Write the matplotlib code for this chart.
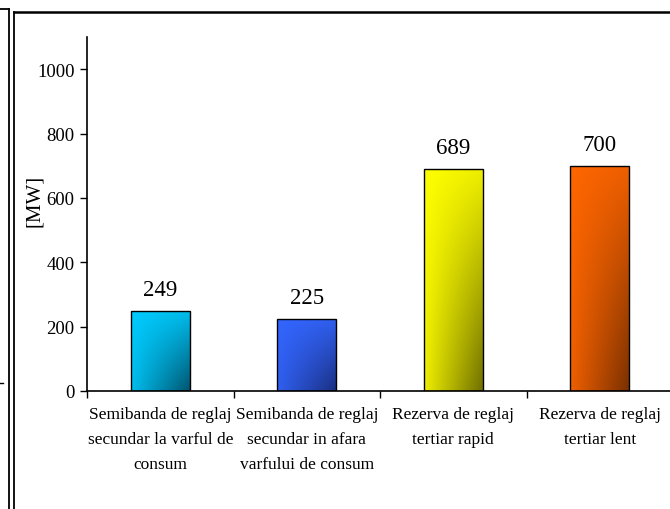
import numpy as np
import matplotlib
matplotlib.use("Agg")
import matplotlib.pyplot as plt
from matplotlib.lines import Line2D
from matplotlib.colors import to_rgb

categories = [
    "Semibanda de reglaj\nsecundar la varful de\nconsum",
    "Semibanda de reglaj\nsecundar in afara\nvarfului de consum",
    "Rezerva de reglaj\ntertiar rapid",
    "Rezerva de reglaj\ntertiar lent",
]
values = [249, 225, 689, 700]
light_colors = ["#00CCFF", "#3366FF", "#FFFF00", "#FF6600"]
dark_colors = ["#00546F", "#1A2F80", "#707000", "#7A3000"]
yticks = [0, 200, 400, 600, 800, 1000]
ylabel = "[MW]"

plt.rcParams['font.family'] = ['Liberation Serif', 'DejaVu Serif']

W, H = 670, 510
fig = plt.figure(figsize=(W / 100, H / 100), dpi=100)
ax = fig.add_axes([87 / W, 118 / H, (673 - 87) / W, (392 - 38) / H])

x = np.arange(len(values))
bw = 0.4
bars = ax.bar(x, values, width=bw, facecolor="none", edgecolor="black",
              linewidth=1.0, zorder=3)

# gradient fill clipped to each bar
ny, nx = 200, 60
u = np.linspace(0, 1, nx)[None, :]
v = np.linspace(0, 1, ny)[:, None]
t = 0.12 * v + u * (0.12 + 0.76 * v)
for b, c1, c2 in zip(bars, light_colors, dark_colors):
    a = np.array(to_rgb(c1))
    d = np.array(to_rgb(c2))
    img = a[None, None, :] * (1 - t[..., None]) + d[None, None, :] * t[..., None]
    x0, y0 = b.get_x(), b.get_y()
    x1, y1 = x0 + b.get_width(), y0 + b.get_height()
    im = ax.imshow(img, extent=[x0, x1, y0, y1], origin="upper",
                   aspect="auto", zorder=2, interpolation="bilinear")
    im.set_clip_path(b)

for xi, val in zip(x, values):
    ax.text(xi, val + 34, f"{val}", ha="center", va="bottom", fontsize=16.5)

ax.set_xlim(-0.5, len(values) - 0.5)
ax.set_ylim(0, 1100)
ax.set_yticks(yticks)
ax.set_yticklabels([str(v_) for v_ in yticks], fontsize=13.5)
ax.set_xticks(np.arange(-0.5, len(values), 1.0))
ax.set_xticklabels([])
ax.set_xticks(x, minor=True)
ax.set_xticklabels(categories, minor=True, fontsize=12.5, linespacing=1.75)
ax.tick_params(axis="x", which="minor", length=0, pad=11)
ax.tick_params(axis="x", which="major", length=5, direction="out", width=1)
ax.tick_params(axis="y", length=5, direction="out", width=1, pad=4)
for s in ["top", "right"]:
    ax.spines[s].set_visible(False)
for s in ["left", "bottom"]:
    ax.spines[s].set_linewidth(1.2)

fig.text(35 / W, 1 - 201 / H, ylabel, rotation=90, ha="center", va="center",
         fontsize=15)

# frame lines
def fl(xs, ys, lw=1.3, color="black"):
    fig.add_artist(Line2D([xx / W for xx in xs], [1 - yy / H for yy in ys],
                          transform=fig.transFigure, color=color, lw=lw))

fl([14, 670], [12.5, 12.5], lw=1.8)
fl([14, 14], [12.5, 510], lw=1.3)
fl([9, 9], [10, 510], lw=1.3)
fl([0, 9], [10, 10], lw=1.3)
fl([0, 3], [384, 384], lw=1.0)

fig.savefig("out.png", dpi=100)
